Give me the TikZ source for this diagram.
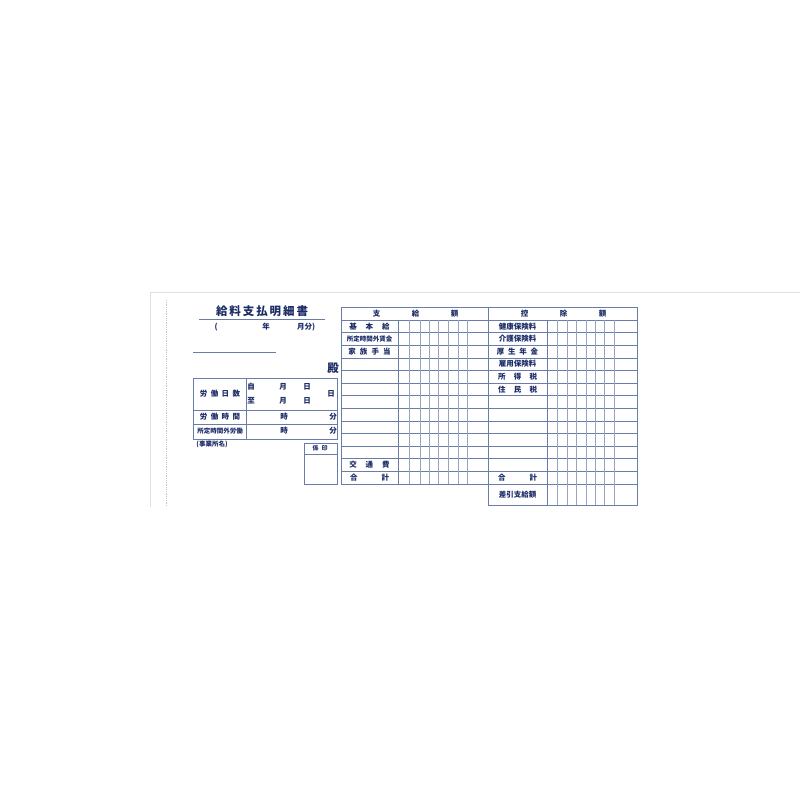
\documentclass[tikz,border=0pt]{standalone}
\usepackage{fontspec}
\setmainfont{Noto Sans CJK JP}
\begin{document}
\begin{tikzpicture}[x=1pt,y=-1pt,
  ln/.style={draw=lineblue,line width=0.6pt},
  thin/.style={draw=lineblue!70,line width=0.35pt},
  tx/.style={text=navy,font=\fontsize{7.5}{7.5}\selectfont\bfseries,inner sep=0pt},
  big/.style={text=navy,font=\fontsize{11.5}{11.5}\selectfont\bfseries,inner sep=0pt}]
\definecolor{lineblue}{HTML}{6A7DA6}
\definecolor{navy}{HTML}{1C2C66}
\useasboundingbox (0,0) rectangle (800,800);
\fill[white] (0,0) rectangle (800,800);
% faint card border
\draw[gray!25,line width=0.6pt] (150,292) -- (800,292);
\draw[gray!25,line width=0.6pt] (150,292) -- (150,507);
\draw[gray!45,densely dotted,line width=0.8pt] (166,300) -- (166,507);
% title
\node[big] (title) at (262,311) {給\,料\,支\,払\,明\,細\,書};
\draw[ln] (199,319) -- (325,319);
\node[tx] (p1) at (216,327) {(};
\node[tx] (p2) at (266,327) {年};
\node[tx] (p3) at (306,327) {月分)};
\draw[ln] (193,352) -- (276,352);
\node[big] (dono) at (333,368) {殿};
% left info box
\draw[ln] (193,378) rectangle (337,439);
\draw[ln] (193,410) -- (337,410);
\draw[ln] (193,424) -- (337,424);
\draw[ln] (246,378) -- (246,439);
\node[tx] (l1) at (220,394) {労\hspace{0.45em}働\hspace{0.45em}日\hspace{0.45em}数};
\node[tx] (l2) at (220,417) {労\hspace{0.45em}働\hspace{0.45em}時\hspace{0.45em}間};
\node[tx,font=\fontsize{6.5}{6.5}\selectfont\bfseries] (l3) at (220,431) {所定時間外労働};
\node[tx] (a1) at (251,387) {自};
\node[tx] (a2) at (283,387) {月};
\node[tx] (a3) at (307,387) {日};
\node[tx] (a4) at (251,401) {至};
\node[tx] (a5) at (283,401) {月};
\node[tx] (a6) at (307,401) {日};
\node[tx] (a7) at (331,394) {日};
\node[tx] (b1) at (284,417) {時};
\node[tx] (b2) at (333,417) {分};
\node[tx] (c1) at (284,431) {時};
\node[tx] (c2) at (333,431) {分};
\node[tx,font=\fontsize{6.5}{6.5}\selectfont\bfseries] (jg) at (212,444) {(事業所名)};
\draw[ln] (304,443) rectangle (337,484);
\draw[ln] (304,454) -- (337,454);
\node[tx,font=\fontsize{6}{6}\selectfont\bfseries] (kk) at (320,448.5) {係\,\,\,印};
% payment table
\draw[ln] (341,307) rectangle (488,484);
\foreach \y in {320,332.6,345.2,357.8,370.4,383,395.6,408.2,420.8,433.4,446,458.6,471.2}
  \draw[ln] (341,\y) -- (488,\y);
\draw[ln] (398,320) -- (398,484);
\foreach \x in {409,420,429,438,448,458,467}
  \draw[thin] (\x,320) -- (\x,484);
\node[tx] (h1) at (415.5,313.5) {支\hspace{4.2em}給\hspace{4.2em}額};
\node[tx] (r1) at (369.5,326.3) {基\hspace{1.2em}本\hspace{1.2em}給};
\node[tx,font=\fontsize{6.5}{6.5}\selectfont\bfseries] (r2) at (369.5,338.9) {所定時間外賃金};
\node[tx] (r3) at (369.5,351.5) {家\hspace{0.55em}族\hspace{0.55em}手\hspace{0.55em}当};
\node[tx] (r4) at (369.5,464.9) {交\hspace{1.2em}通\hspace{1.2em}費};
\node[tx] (r5) at (369.5,477.5) {合\hspace{3.2em}計};
% deduction table
\draw[ln] (488,307) rectangle (637,484);
\foreach \y in {320,332.6,345.2,357.8,370.4,383,395.6,408.2,420.8,433.4,446,458.6,471.2}
  \draw[ln] (488,\y) -- (637,\y);
\draw[ln] (488,484) rectangle (637,505);
\draw[ln] (547,320) -- (547,505);
\foreach \x in {557,567,576,586,595,604,614}
  \draw[thin] (\x,320) -- (\x,505);
\node[tx] (h2) at (563.5,313.5) {控\hspace{4.2em}除\hspace{4.2em}額};
\node[tx] (d1) at (517.5,326.3) {健康保険料};
\node[tx] (d2) at (517.5,338.9) {介護保険料};
\node[tx] (d3) at (517.5,351.5) {厚\hspace{0.5em}生\hspace{0.5em}年\hspace{0.5em}金};
\node[tx] (d4) at (517.5,364.1) {雇用保険料};
\node[tx] (d5) at (517.5,376.7) {所\hspace{1.1em}得\hspace{1.1em}税};
\node[tx] (d6) at (517.5,389.3) {住\hspace{1.1em}民\hspace{1.1em}税};
\node[tx] (d7) at (517.5,477.5) {合\hspace{3.2em}計};
\node[tx] (d8) at (517.5,494.5) {差引支給額};
\end{tikzpicture}
\end{document}
